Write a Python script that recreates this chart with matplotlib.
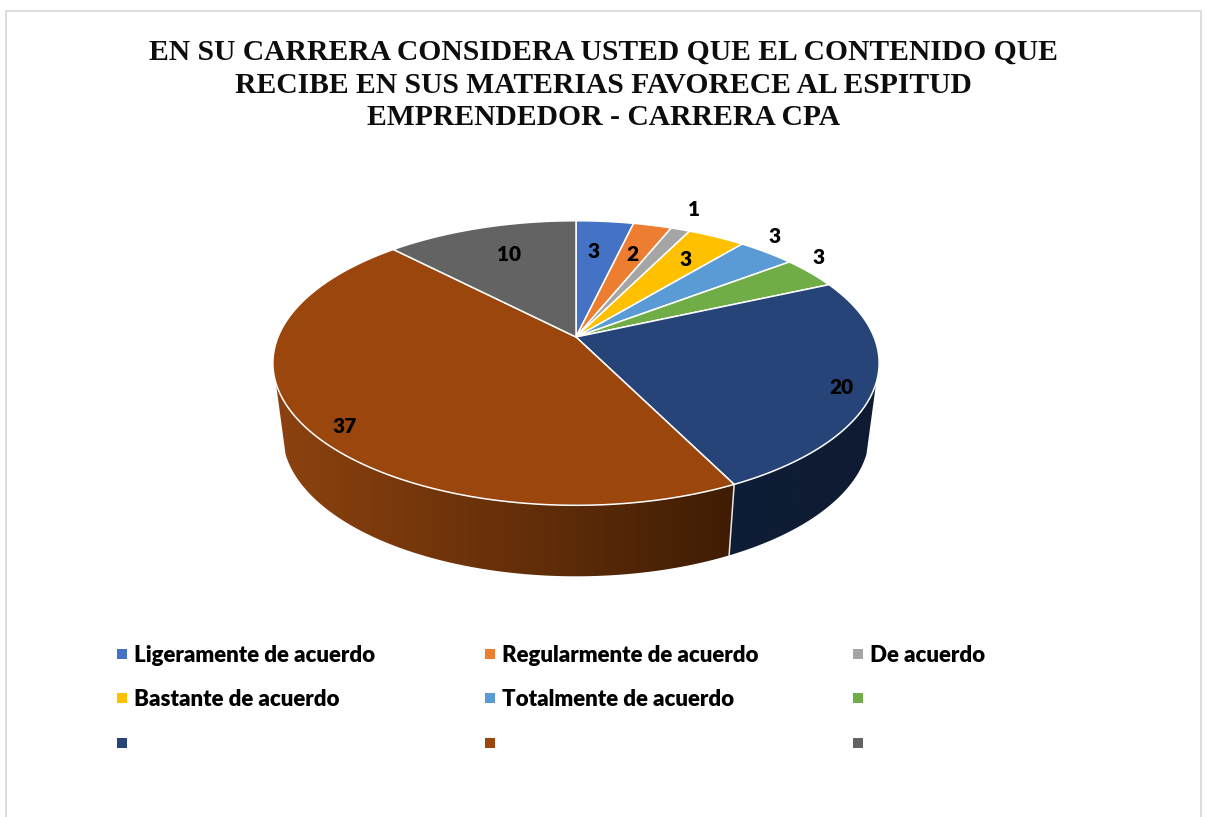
import matplotlib
matplotlib.use('Agg')
import matplotlib.pyplot as plt
import numpy as np
from matplotlib.colors import LinearSegmentedColormap
from matplotlib.patches import Polygon

# data
categories = ['Ligeramente de acuerdo', 'Regularmente de acuerdo', 'De acuerdo',
              'Bastante de acuerdo', 'Totalmente de acuerdo', '', '', '', '']
values = [3, 2, 1, 3, 3, 3, 20, 37, 10]
colors = ['#4472C4', '#ED7D31', '#A5A5A5', '#FFC000', '#5B9BD5', '#70AD47',
          '#264478', '#9A460D', '#636363']
title = ('EN SU CARRERA CONSIDERA USTED QUE EL CONTENIDO QUE\n'
         'RECIBE EN SUS MATERIAS FAVORECE AL ESPITUD\n'
         'EMPRENDEDOR - CARRERA CPA')

# layout in pixels
label_x = [594, 632, 694, 686, 775, 819, 841, 345, 509]
label_y = [251, 254, 209, 259, 236, 258, 387, 426, 254]
legend_x = [122, 490, 858]
legend_y = [654, 698, 743]
cx, cy = 576, 337
rx, ry, k = 298, 137.5, 0.183
depth = 71
sx = 0.968
wall_from, wall_to = 108.4, 251.6   # degrees clockwise from top


def rim(theta):
    # circle seen in perspective, theta clockwise from top
    t = np.radians(theta)
    w = 1 + k * np.cos(t)
    return rx * np.sin(t) / w, ry * np.cos(t) / w


def wall(a, b):
    th = np.linspace(a, b, 200)
    x, y = rim(th)
    top = np.c_[cx + x, cy - y]
    bot = np.c_[cx + x * sx, cy - y + depth][::-1]
    return np.vstack([top, bot])


fig = plt.figure(figsize=(12.05, 8.17), dpi=100)
ax = fig.add_axes([0, 0, 1, 1])

# chart border
ax.plot([6, 6, 1201, 1201], [830, 11, 11, 830], color='#d9d9d9', lw=1.3)

# angles of the slices
edges = np.concatenate([[0], np.cumsum(values)]) / sum(values) * 360

# side wall, gradient images clipped to the wall outline
brown = LinearSegmentedColormap.from_list('brown', ['#8c4210', '#74360b', '#5a2a08', '#3e1c03'])
navy = LinearSegmentedColormap.from_list('navy', ['#0e1d36', '#0e1b32'])
ramp = np.linspace(0, 1, 256).reshape(1, -1)
for cmap, a, b in [(navy, wall_from, edges[7]), (brown, edges[7], wall_to)]:
    poly = Polygon(wall(a, b), closed=True, facecolor='none', edgecolor='none', transform=ax.transData)
    ax.add_patch(poly)
    left, right = wall(a, b)[:, 0].min(), wall(a, b)[:, 0].max()
    im = ax.imshow(ramp, cmap=cmap, extent=[left, right, 600, 350], aspect='auto', zorder=1)
    im.set_clip_path(poly)

# seam between the two visible wall parts
xs, ys = rim(edges[7])
ax.plot([cx + xs, cx + xs * sx], [cy - ys, cy - ys + depth], color='#e8e8e8', lw=1.1, zorder=2)

ax.set_xlim(0, 1205)
ax.set_ylim(817, 0)
ax.axis('off')

# top face
for i, v in enumerate(values):
    th = np.linspace(edges[i], edges[i + 1], 120)
    x, y = rim(th)
    ax.fill(np.r_[cx, cx + x], np.r_[cy, cy - y], facecolor=colors[i],
            edgecolor='white', lw=1.1, joinstyle='round', zorder=3)

# value labels
for v, x, y in zip(values, label_x, label_y):
    ax.text(x, y, str(v), ha='center', va='center', fontsize=15, fontweight='heavy',
            family='Lato', color='black', zorder=5)

# legend
for i, name in enumerate(categories):
    lx = legend_x[i % 3]
    ly = legend_y[i // 3]
    ax.scatter([lx], [ly], marker='s', s=42, color=colors[i], linewidths=0, zorder=5)
    if name:
        ax.text(lx + 12, ly + 1, name, ha='left', va='center', fontsize=16, fontweight='heavy',
                family='Lato', color='black')

ax.text(603.5, 85, title, ha='center', va='center', fontsize=21.3, fontweight='bold',
        family='Liberation Serif', color='#0d0d0d', linespacing=1.26)

fig.savefig('out.png', dpi=100)
